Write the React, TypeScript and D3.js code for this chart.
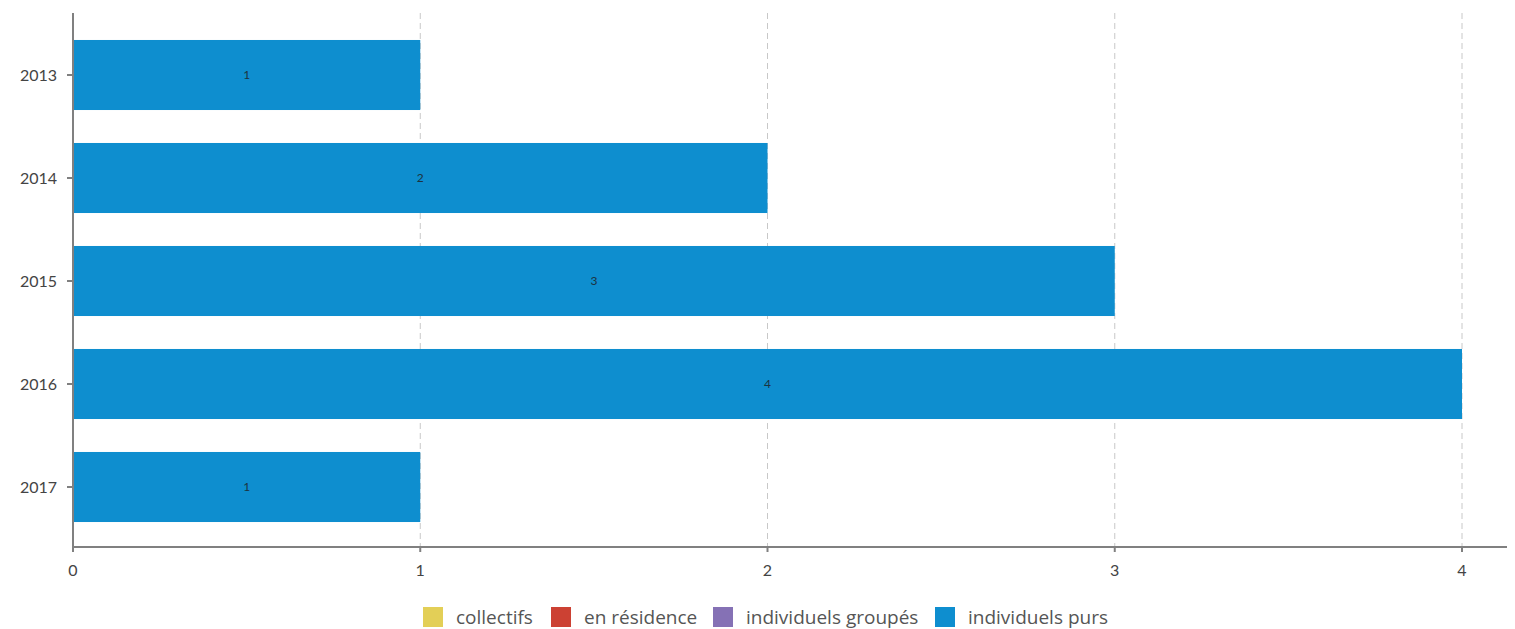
import React, {useEffect, useRef} from 'react';
import * as d3 from 'd3';

const years = ['2013', '2014', '2015', '2016', '2017'];
const collectifs = [0, 0, 0, 0, 0];
const enResidence = [0, 0, 0, 0, 0];
const individuelsGroupes = [0, 0, 0, 0, 0];
const individuelsPurs = [1, 2, 3, 4, 1];
const xTicks = [0, 1, 2, 3, 4];

const seriesNames = ['collectifs', 'en résidence', 'individuels groupés', 'individuels purs'];
const seriesColors = ['#e3cf57', '#cc4133', '#8571b5', '#0e8ecf'];

const WIDTH = 1507;
const HEIGHT = 621;
const FONT = 'Lato, "Open Sans", sans-serif';
const LEGEND_FONT = '"Open Sans", Lato, sans-serif';

export default function App() {
  const ref = useRef<SVGSVGElement>(null);

  useEffect(() => {
    // no scrollbars, so the chart keeps the full window width
    document.documentElement.style.overflow = 'hidden';

    const svg = d3.select(ref.current);
    svg.selectAll('*').remove();

    const left = 65; // svg sits 8px into the page
    const top = 5;
    const axisY = 539;

    const xScale = d3.scaleLinear().domain([0, 4]).range([left, left + 1389]);
    const yScale = d3.scaleBand()
      .domain(years)
      .range([axisY - 523.5, axisY - 8.5])
      .paddingInner(0.32)
      .paddingOuter(0.16);

    const series = [collectifs, enResidence, individuelsGroupes, individuelsPurs];

    // grid lines
    svg.append('g')
      .selectAll('line')
      .data(xTicks.slice(1))
      .enter().append('line')
      .attr('x1', d => xScale(d))
      .attr('x2', d => xScale(d))
      .attr('y1', top)
      .attr('y2', axisY)
      .attr('stroke', '#c8c8c8')
      .attr('stroke-width', 1)
      .attr('stroke-dasharray', '6,4');

    // stacked bars
    const stackData = years.map((y, i) => ({year: y, values: series.map(s => s[i])}));
    stackData.forEach(row => {
      let acc = 0;
      row.values.forEach((v, si) => {
        if (v > 0) {
          svg.append('rect')
            .attr('x', xScale(acc))
            .attr('y', yScale(row.year) as number)
            .attr('width', xScale(acc + v) - xScale(acc))
            .attr('height', yScale.bandwidth())
            .attr('fill', seriesColors[si]);
          svg.append('text')
            .attr('x', xScale(acc + v / 2))
            .attr('y', (yScale(row.year) as number) + yScale.bandwidth() / 2)
            .attr('dy', '0.35em')
            .attr('text-anchor', 'middle')
            .attr('font-family', FONT)
            .attr('font-size', 12)
            .attr('fill', '#1c3340')
            .text(v);
        }
        acc += v;
      });
    });

    // x axis
    const xAxis = svg.append('g');
    xAxis.append('line')
      .attr('x1', left).attr('x2', WIDTH + 20)
      .attr('y1', axisY).attr('y2', axisY)
      .attr('stroke', '#808080').attr('stroke-width', 2);
    xTicks.forEach(t => {
      xAxis.append('line')
        .attr('x1', xScale(t)).attr('x2', xScale(t))
        .attr('y1', axisY).attr('y2', axisY + 5)
        .attr('stroke', '#808080').attr('stroke-width', 2);
      xAxis.append('text')
        .attr('x', xScale(t))
        .attr('y', axisY + 29)
        .attr('text-anchor', 'middle')
        .attr('font-family', FONT)
        .attr('font-size', 16)
        .attr('fill', '#444')
        .text(t);
    });

    // y axis
    const yAxis = svg.append('g');
    yAxis.append('line')
      .attr('x1', left).attr('x2', left)
      .attr('y1', top).attr('y2', axisY)
      .attr('stroke', '#808080').attr('stroke-width', 2);
    years.forEach(y => {
      const cy = (yScale(y) as number) + yScale.bandwidth() / 2;
      yAxis.append('line')
        .attr('x1', left - 6).attr('x2', left)
        .attr('y1', cy).attr('y2', cy)
        .attr('stroke', '#808080').attr('stroke-width', 2);
      yAxis.append('text')
        .attr('x', left - 16)
        .attr('y', cy)
        .attr('dy', '0.35em')
        .attr('text-anchor', 'end')
        .attr('font-family', FONT)
        .attr('font-size', 16)
        .attr('fill', '#444')
        .text(y);
    });

    // legend
    const legendX = [415, 543, 705, 927];
    const legend = svg.append('g');
    seriesNames.forEach((name, i) => {
      legend.append('rect')
        .attr('x', legendX[i]).attr('y', 599)
        .attr('width', 20).attr('height', 20)
        .attr('fill', seriesColors[i]);
      legend.append('text')
        .attr('x', legendX[i] + 33)
        .attr('y', 609)
        .attr('dy', '0.35em')
        .attr('font-family', LEGEND_FONT)
        .attr('font-size', 19)
        .attr('fill', '#555')
        .text(name);
    });
  }, []);

  return <svg ref={ref} width={WIDTH} height={HEIGHT} style={{display: 'block', overflow: 'visible'}} />;
}
